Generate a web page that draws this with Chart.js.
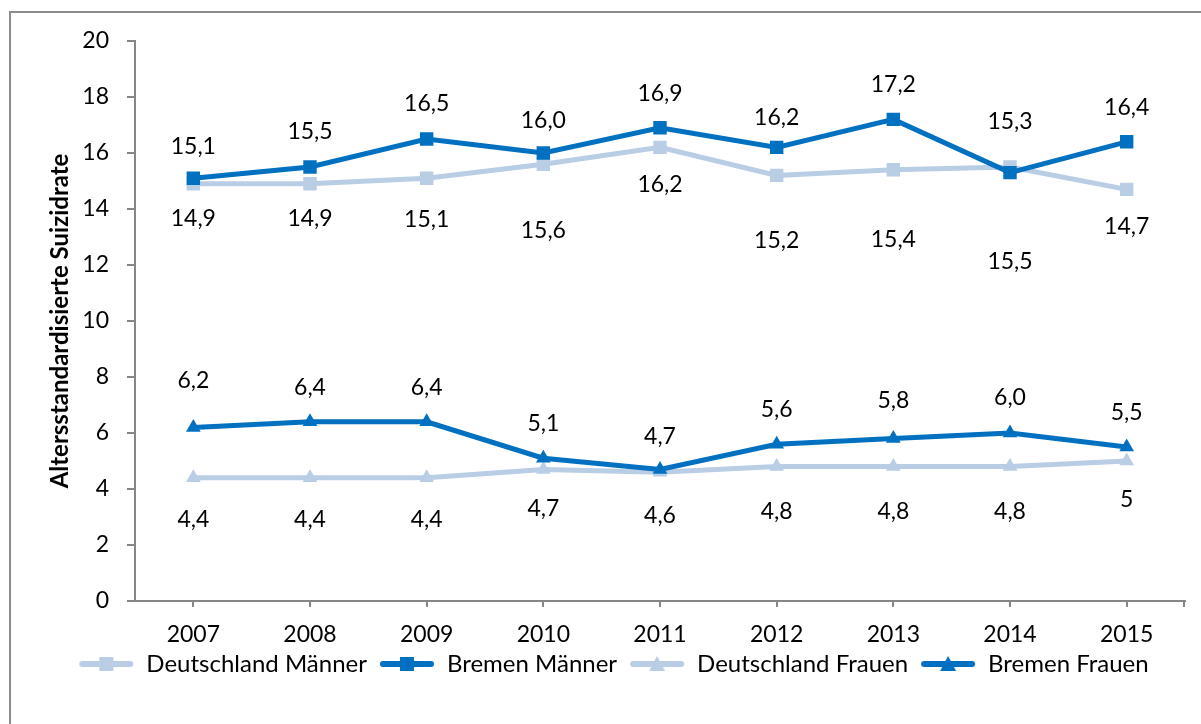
<!DOCTYPE html>
<html>
<head>
<meta charset="utf-8">
<script src="https://cdn.jsdelivr.net/npm/chart.js@4/dist/chart.umd.min.js"></script>
<style>
  html, body { margin: 0; padding: 0; background: #fff; }
  #wrap { width: 1201px; height: 724px; }
</style>
</head>
<body>
<div id="wrap"><canvas id="myChart" width="1201" height="724"></canvas></div>
<script>
// data
var years = ['2007', '2008', '2009', '2010', '2011', '2012', '2013', '2014', '2015'];
var deutschlandMaenner = [14.9, 14.9, 15.1, 15.6, 16.2, 15.2, 15.4, 15.5, 14.7];
var bremenMaenner = [15.1, 15.5, 16.5, 16.0, 16.9, 16.2, 17.2, 15.3, 16.4];
var deutschlandFrauen = [4.4, 4.4, 4.4, 4.7, 4.6, 4.8, 4.8, 4.8, 5];
var bremenFrauen = [6.2, 6.4, 6.4, 5.1, 4.7, 5.6, 5.8, 6.0, 5.5];
var yTicks = [0, 2, 4, 6, 8, 10, 12, 14, 16, 18, 20];

var light = '#B9CDE5';
var dark = '#0070C0';
var axisGrey = '#868686';
var font = 'Lato';

// label placement (px from point, negative = above)
var labelOffsets = [
    [35, 35, 41, 66, 37, 65, 70, 95, 37],
    [-32, -35, -35, -32, -34, -30, -35, -51, -34],
    [42, 42, 42, 39, 43, 45, 45, 45, 39],
    [-47, -34, -34, -35, -33, -35, -38, -35, -34]
];

function fmt(v, ds) {
    // Deutschland Frauen 2015 is printed as plain "5" in the original
    if (ds === 2 && Number.isInteger(v)) return String(v);
    return v.toFixed(1).replace('.', ',');
}

function legendIcon(color, style) {
    var c = document.createElement('canvas');
    c.width = 56; c.height = 18;
    var g = c.getContext('2d');
    g.strokeStyle = color;
    g.lineWidth = 6;
    g.lineCap = 'round';
    g.beginPath(); g.moveTo(4, 9); g.lineTo(52, 9); g.stroke();
    g.fillStyle = color;
    if (style === 'rect') {
        g.fillRect(21, 2, 14, 14);
    } else {
        g.beginPath(); g.moveTo(28, 1); g.lineTo(36, 16); g.lineTo(20, 16); g.closePath(); g.fill();
    }
    return c;
}

var framePlugin = {
    id: 'frame',
    beforeDraw: function(chart) {
        var ctx = chart.ctx;
        ctx.save();
        ctx.strokeStyle = '#8C8C8C';
        ctx.lineWidth = 2;
        ctx.beginPath();
        ctx.moveTo(10, 730);
        ctx.lineTo(10, 12);
        ctx.lineTo(1210, 12);
        ctx.stroke();
        ctx.restore();
    },
    afterLayout: function(chart) {
        // let the year labels hang below the (short) axis box without clipping
        chart.scales.x.bottom += 24;
    },
    afterDraw: function(chart) {
        // end tick at the right end of the category axis
        var x = chart.scales.x;
        var ctx = chart.ctx;
        ctx.save();
        ctx.strokeStyle = axisGrey;
        ctx.lineWidth = 2;
        ctx.beginPath();
        ctx.moveTo(x.right - 1, x.top);
        ctx.lineTo(x.right - 1, x.top + 6);
        ctx.stroke();
        ctx.restore();
    }
};

var valueLabels = {
    id: 'valueLabels',
    afterDatasetsDraw: function(chart) {
        var ctx = chart.ctx;
        ctx.save();
        ctx.font = '23px ' + font;
        ctx.fillStyle = '#000';
        ctx.textAlign = 'center';
        ctx.textBaseline = 'middle';
        chart.data.datasets.forEach(function(ds, d) {
            var meta = chart.getDatasetMeta(d);
            meta.data.forEach(function(pt, i) {
                ctx.fillText(fmt(ds.data[i], d), pt.x, pt.y + labelOffsets[d][i]);
            });
        });
        ctx.restore();
    }
};

function series(label, data, color, style, order) {
    return {
        label: label,
        data: data,
        borderColor: color,
        backgroundColor: color,
        borderWidth: 5,
        pointStyle: style,
        pointRadius: style === 'rect' ? 9.5 : 8.5,
        pointHoverRadius: 9.5,
        pointBorderWidth: 0,
        tension: 0,
        order: order,
        legendIcon: legendIcon(color, style)
    };
}

var ctx = document.getElementById('myChart').getContext('2d');
var myChart = new Chart(ctx, {
    type: 'line',
    data: {
        labels: years,
        datasets: [
            series('Deutschland Männer', deutschlandMaenner, light, 'rect', 2),
            series('Bremen Männer', bremenMaenner, dark, 'rect', 1),
            series('Deutschland Frauen', deutschlandFrauen, light, 'triangle', 2),
            series('Bremen Frauen', bremenFrauen, dark, 'triangle', 1)
        ]
    },
    options: {
        responsive: false,
        animation: false,
        layout: { padding: { left: 42, right: 16, top: 41, bottom: 38 } },
        plugins: {
            tooltip: { enabled: false },
            legend: {
                position: 'bottom',
                labels: {
                    usePointStyle: true,
                    pointStyleWidth: 56,
                    boxHeight: 18,
                    padding: 12,
                    color: '#000',
                    font: { family: font, size: 24 },
                    generateLabels: function(chart) {
                        return chart.data.datasets.map(function(ds, i) {
                            return {
                                text: ds.label,
                                pointStyle: ds.legendIcon,
                                fillStyle: ds.borderColor,
                                strokeStyle: ds.borderColor,
                                lineWidth: 0,
                                hidden: false,
                                datasetIndex: i
                            };
                        });
                    }
                }
            }
        },
        scales: {
            x: {
                offset: true,
                grid: { display: true, drawOnChartArea: false, offset: false, drawTicks: true, tickLength: 6, color: axisGrey, lineWidth: 2 },
                border: { display: true, color: axisGrey, width: 2 },
                ticks: { color: '#000', padding: 14, font: { family: font, size: 23 } },
                afterFit: function(scale) { scale.height = 39; }
            },
            y: {
                min: 0,
                max: 20,
                afterBuildTicks: function(scale) {
                    scale.ticks = yTicks.map(function(v) { return { value: v }; });
                },
                grid: { display: true, drawOnChartArea: false, drawTicks: true, tickLength: 8, color: axisGrey, lineWidth: 2 },
                border: { display: true, color: axisGrey, width: 2 },
                ticks: { color: '#000', padding: 18, font: { family: font, size: 23 } },
                title: {
                    display: true,
                    text: 'Altersstandardisierte Suizidrate',
                    color: '#000',
                    font: { family: font, size: 24, weight: 'bold' },
                    padding: { top: 4, bottom: 0 }
                },
                afterFit: function(scale) { scale.width = 93; }
            }
        }
    },
    plugins: [framePlugin, valueLabels]
});
</script>
</body>
</html>
